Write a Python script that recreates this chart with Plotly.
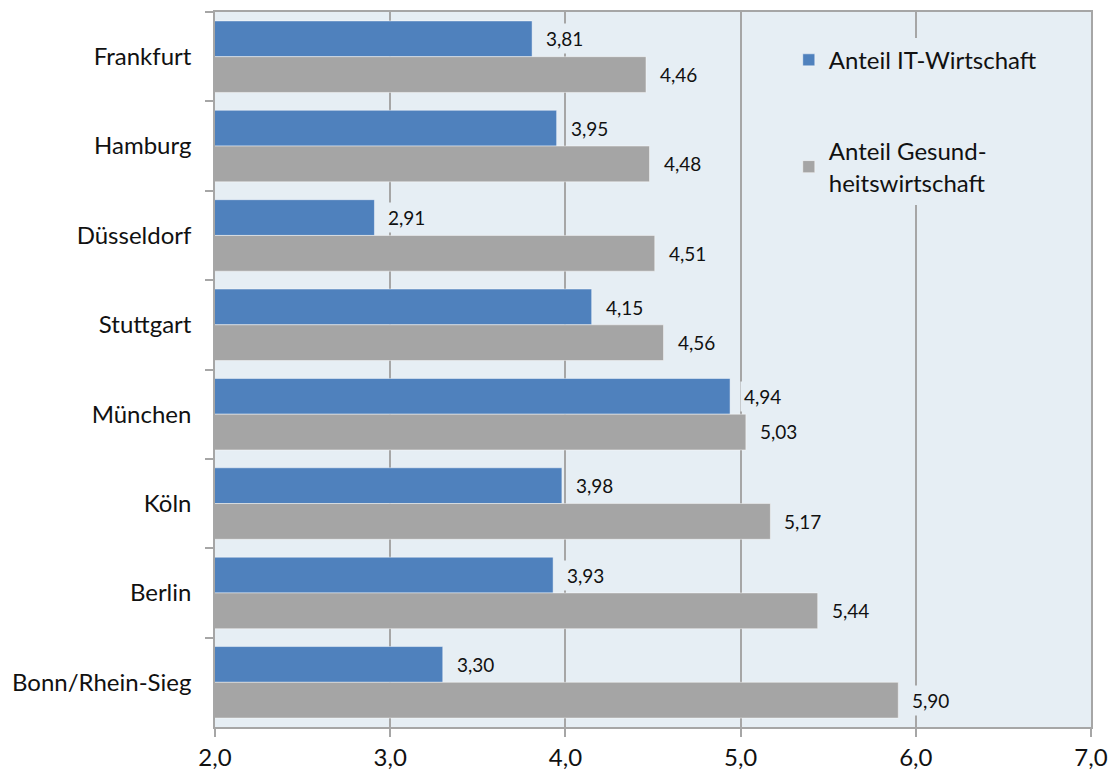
import plotly.graph_objects as go

# Städte (von oben nach unten) und Anteile in Prozent
staedte = ["Frankfurt", "Hamburg", "Düsseldorf", "Stuttgart",
           "München", "Köln", "Berlin", "Bonn/Rhein-Sieg"]
anteil_it = [3.81, 3.95, 2.91, 4.15, 4.94, 3.98, 3.93, 3.30]
anteil_gesundheit = [4.46, 4.48, 4.51, 4.56, 5.03, 5.17, 5.44, 5.90]

x_ticks = [2.0, 3.0, 4.0, 5.0, 6.0, 7.0]
x_tick_text = ["2,0", "3,0", "4,0", "5,0", "6,0", "7,0"]

BLAU = "#4F81BD"
GRAU = "#A5A5A5"
HINTERGRUND = "#E6EEF4"
LINIE = "#A6A6A6"
SCHRIFT = "Lato, 'Open Sans', sans-serif"

fig = go.Figure()
fig.add_trace(go.Bar(
    y=staedte, x=anteil_it, orientation="h",
    name="Anteil IT-Wirtschaft", legendgroup="it",
    marker=dict(color=BLAU, line=dict(color="rgba(255,255,255,0.45)", width=1)),
))
fig.add_trace(go.Bar(
    y=staedte, x=anteil_gesundheit, orientation="h",
    name="Anteil Gesund-<br>heitswirtschaft", legendgroup="ges",
    marker=dict(color=GRAU, line=dict(color="rgba(255,255,255,0.45)", width=1)),
))

# Wertebeschriftungen mit Komma als Dezimaltrennzeichen
def fmt(v):
    return f"{v:.2f}".replace(".", ",")

for werte, shift in ((anteil_it, 17.7), (anteil_gesundheit, -17.7)):
    for stadt, v in zip(staedte, werte):
        fig.add_annotation(
            x=v, y=stadt, xref="x", yref="y", text=fmt(v),
            showarrow=False, xanchor="left", yanchor="middle",
            xshift=10, yshift=shift, bgcolor=HINTERGRUND, borderpad=3,
            font=dict(family=SCHRIFT, size=19, color="#111111"),
        )

fig.update_layout(
    width=1111, height=778,
    margin=dict(l=215, r=20, t=12, b=51, autoexpand=False),
    paper_bgcolor="white", plot_bgcolor=HINTERGRUND,
    barmode="group", bargap=0.2, bargroupgap=0,
    font=dict(family=SCHRIFT, size=24, color="#111111"),
    showlegend=True,
    legend=dict(
        x=0.655, y=0.964, xanchor="left", yanchor="top",
        bgcolor=HINTERGRUND, borderwidth=0, tracegroupgap=57,
        font=dict(family=SCHRIFT, size=24, color="#111111"),
        traceorder="grouped",
    ),
)
fig.update_xaxes(
    range=[2.0, 7.0], tickvals=x_ticks, ticktext=x_tick_text,
    showgrid=True, gridcolor=LINIE, gridwidth=1.5,
    showline=True, linecolor=LINIE, linewidth=1.5, mirror=True,
    ticks="outside", ticklen=8, tickcolor=LINIE, tickwidth=1.5,
    zeroline=False, tickfont=dict(size=24), automargin=False,
    ticklabeloverflow="allow",
)
fig.update_yaxes(
    autorange="reversed", type="category",
    showline=True, linecolor=LINIE, linewidth=1.5, mirror=True,
    ticks="outside", ticklen=8, tickcolor=LINIE, tickwidth=1.5,
    tickson="boundaries", showgrid=False, ticklabelstandoff=17,
    tickfont=dict(size=24), automargin=False,
)

fig.write_html("out.html")
